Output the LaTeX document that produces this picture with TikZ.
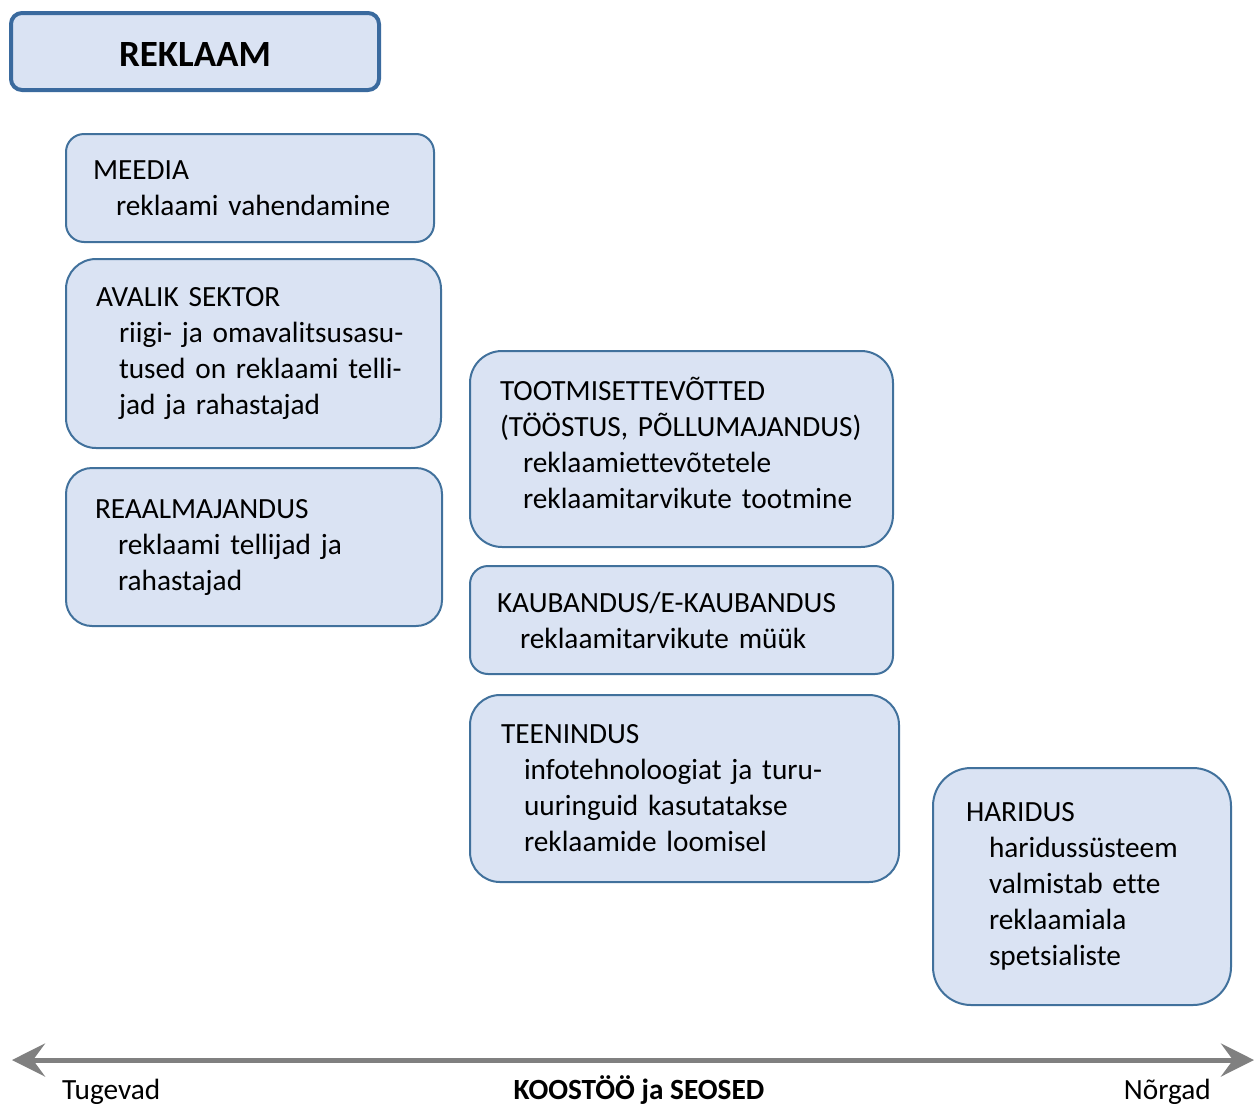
\documentclass[tikz,border=0pt]{standalone}
\usepackage{fontspec}
\setmainfont{Carlito}[Ligatures=NoCommon]
\usepackage{xcolor}
\definecolor{boxfill}{HTML}{DAE3F3}
\definecolor{boxline}{HTML}{41719C}
\definecolor{titleline}{HTML}{3A6A9E}
\definecolor{axisgray}{HTML}{808080}
\usetikzlibrary{arrows.meta}
\newcommand{\ind}{\hspace*{23pt}}

\tikzset{
  box/.style={draw=boxline, line width=2pt, fill=boxfill, align=left,
    inner ysep=0pt, font=\fontsize{29.3}{36}\selectfont},
  axislabel/.style={inner sep=0pt, font=\fontsize{29.3}{36}\selectfont}
}

\begin{document}
\begin{tikzpicture}[x=1pt, y=-1pt]
\useasboundingbox (0, 0) rectangle (1260, 1103);

\node[draw=titleline, line width=4pt, fill=boxfill, rounded corners=11pt,
  minimum width=368pt, minimum height=77pt,
  font=\bfseries\fontsize{37}{44}\selectfont] (reklaam) at (195, 51.5) {\raisebox{-3pt}[\height][\depth]{REKLAAM}};

% vasak veerg
\node[box, rounded corners=18pt, inner xsep=27pt, text width=314pt, minimum height=108pt] (meedia) at (250, 188)
  {MEEDIA\\ \ind reklaami vahendamine};
\node[box, rounded corners=30pt, inner xsep=30pt, text width=315pt, minimum height=189pt] (avalik) at (253.5, 353.5)
  {AVALIK SEKTOR\\ \ind riigi- ja omavalitsusasu-\\ \ind tused on reklaami telli-\\ \ind jad ja rahastajad};
\node[box, rounded corners=26pt, inner xsep=29pt, text width=318pt, minimum height=158pt] (reaal) at (254, 547)
  {REAALMAJANDUS\\ \ind reklaami tellijad ja\\ \ind rahastajad};

% keskmine veerg
\node[box, rounded corners=32pt, inner xsep=30pt, text width=363pt, minimum height=196pt, text depth=120pt] (tootmine) at (681.5, 449)
  {TOOTMISETTEVÕTTED\\ (TÖÖSTUS, PÕLLUMAJANDUS)\\ \ind reklaamiettevõtetele\\ \ind reklaamitarvikute tootmine};
\node[box, rounded corners=18pt, inner xsep=27pt, text width=369pt, minimum height=108pt] (kaubandus) at (681.5, 620)
  {KAUBANDUS/E-KAUBANDUS\\ \ind reklaamitarvikute müük};
\node[box, rounded corners=30pt, inner xsep=31pt, text width=367pt, minimum height=187pt] (teenindus) at (684.5, 788.5)
  {TEENINDUS\\ \ind infotehnoloogiat ja turu-\\ \ind uuringuid kasutatakse\\ \ind reklaamide loomisel};

% parem veerg
\node[box, rounded corners=38pt, inner xsep=33pt, text width=232pt, minimum height=237pt] (haridus) at (1082, 886.5)
  {HARIDUS\\ \ind haridussüsteem\\ \ind valmistab ette\\ \ind reklaamiala\\ \ind spetsialiste};

% telg
\coordinate (vasak) at (12, 1060);
\coordinate (parem) at (1254, 1060);
\draw[axisgray, line width=5pt,
  {Stealth[length=33pt, width=33pt, inset=12pt]}-{Stealth[length=33pt, width=33pt, inset=12pt]}]
  (vasak) -- (parem);
\node[axislabel, anchor=base west] (tugevad) at (62, 1099) {Tugevad};
\node[axislabel, anchor=base, font=\bfseries\fontsize{29.3}{36}\selectfont] (koostoo) at (639, 1099) {KOOSTÖÖ ja SEOSED};
\node[axislabel, anchor=base east] (norgad) at (1211, 1099) {Nõrgad};
\end{tikzpicture}
\end{document}
